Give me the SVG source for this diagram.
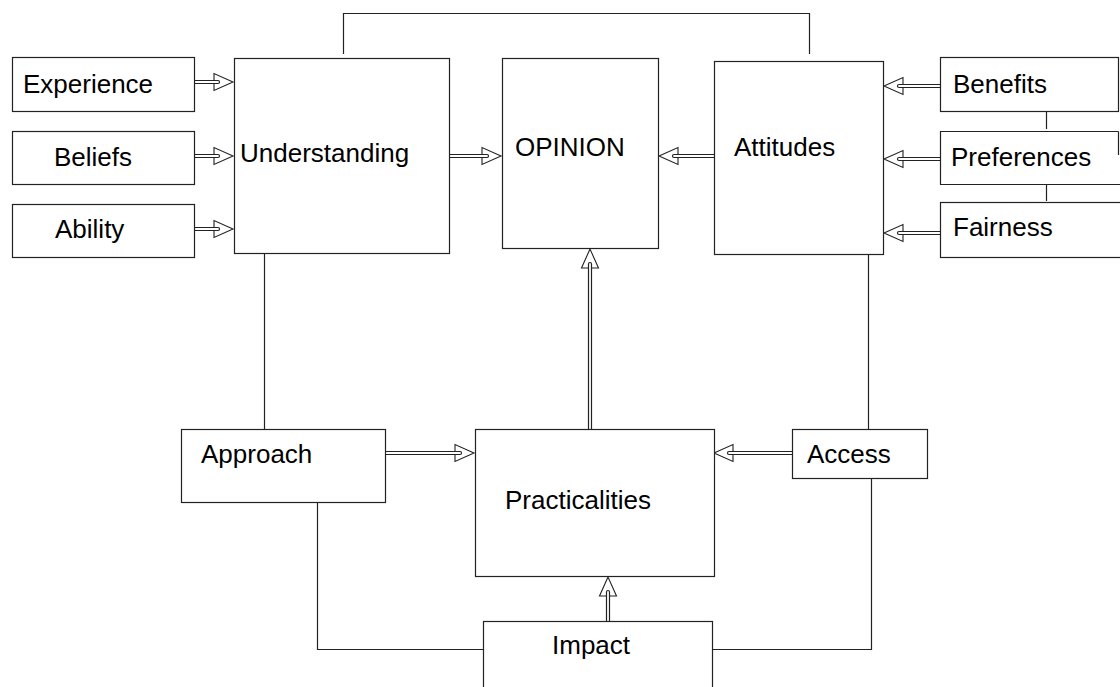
<svg xmlns="http://www.w3.org/2000/svg" width="1120" height="687" viewBox="0 0 1120 687">
<defs>
<style>
.box{fill:#fff;stroke:#222;stroke-width:1.2}
.t{font-family:"Liberation Sans",Arial,sans-serif;font-size:26px;fill:#000}
.ln{fill:none;stroke:#222;stroke-width:1.2}
.head{fill:#fff;stroke:#222;stroke-width:1.1;stroke-linejoin:miter}
.so{fill:none;stroke:#222;stroke-width:4.2;stroke-linecap:round}
.si{fill:none;stroke:#fff;stroke-width:1.8;stroke-linecap:round}
</style>
</defs>
<rect width="1120" height="687" fill="#fff"/>
<g id="connectors">
<path class="ln" d="M343.5,54 V13.5 H809.5 V54"/>
<path class="ln" d="M264.5,253 V429"/>
<path class="ln" d="M868.5,254 V429"/>
<path class="ln" d="M317.5,502 V649.5 H483"/>
<path class="ln" d="M871.5,478 V649.5 H712"/>
<path class="ln" d="M1046.5,111 V129"/>
<path class="ln" d="M1046.5,184 V201"/>
<!-- arrowheads -->
<polygon class="head" points="233,82 214,73.5 214,90.5"/>
<polygon class="head" points="233,156 214,147.5 214,164.5"/>
<polygon class="head" points="233,229 214,220.5 214,237.5"/>
<polygon class="head" points="501,156 482,147.5 482,164.5"/>
<polygon class="head" points="659,156 678,147.5 678,164.5"/>
<polygon class="head" points="884,86 903,77.5 903,94.5"/>
<polygon class="head" points="884,159 903,150.5 903,167.5"/>
<polygon class="head" points="884,233 903,224.5 903,241.5"/>
<polygon class="head" points="590,249 581.5,268 598.5,268"/>
<polygon class="head" points="474,453 455,444.5 455,461.5"/>
<polygon class="head" points="714,453 733,444.5 733,461.5"/>
<polygon class="head" points="608,577 599.5,596 616.5,596"/>
<!-- shafts -->
<g id="shafts">
<path class="so" d="M194,82 H218"/><path class="si" d="M194,82 H218"/>
<path class="so" d="M194,156 H218"/><path class="si" d="M194,156 H218"/>
<path class="so" d="M194,229 H218"/><path class="si" d="M194,229 H218"/>
<path class="so" d="M449,156 H487"/><path class="si" d="M449,156 H487"/>
<path class="so" d="M714,156 H674"/><path class="si" d="M714,156 H674"/>
<path class="so" d="M940,86 H899"/><path class="si" d="M940,86 H899"/>
<path class="so" d="M940,159 H899"/><path class="si" d="M940,159 H899"/>
<path class="so" d="M940,233 H899"/><path class="si" d="M940,233 H899"/>
<path class="so" d="M590,429 V264"/><path class="si" d="M590,429 V264"/>
<path class="so" d="M385,453 H460"/><path class="si" d="M385,453 H460"/>
<path class="so" d="M792,453 H729"/><path class="si" d="M792,453 H729"/>
<path class="so" d="M608,621 V592"/><path class="si" d="M608,621 V592"/>
</g>
</g>
<g id="experience"><rect class="box" x="12.5" y="57.5" width="182" height="54"/><text class="t" x="23" y="93">Experience</text></g>
<g id="beliefs"><rect class="box" x="12.5" y="131.5" width="182" height="53"/><text class="t" x="54" y="166">Beliefs</text></g>
<g id="ability"><rect class="box" x="12.5" y="204.5" width="182" height="53"/><text class="t" x="55" y="238">Ability</text></g>
<g id="understanding"><rect class="box" x="234.5" y="58.5" width="215" height="195"/><text class="t" x="240" y="162">Understanding</text></g>
<g id="opinion"><rect class="box" x="502.5" y="58.5" width="156" height="190"/><text class="t" x="515" y="156">OPINION</text></g>
<g id="attitudes"><rect class="box" x="714.5" y="61.5" width="169" height="193"/><text class="t" x="734" y="156">Attitudes</text></g>
<g id="benefits"><rect class="box" x="940.5" y="57.5" width="178" height="54"/><text class="t" x="953" y="93">Benefits</text></g>
<g id="preferences"><path class="box" d="M1118.5,131.5 H940.5 V184.5 H1120"/><path class="ln" d="M1118.5,131.5 V155"/><text class="t" x="951" y="166">Preferences</text></g>
<g id="fairness"><rect class="box" x="940.5" y="202.5" width="190" height="55"/><text class="t" x="953" y="236">Fairness</text></g>
<g id="approach"><rect class="box" x="181.5" y="429.5" width="204" height="73"/><text class="t" x="201" y="463">Approach</text></g>
<g id="practicalities"><rect class="box" x="475.5" y="429.5" width="239" height="147"/><text class="t" x="505" y="509">Practicalities</text></g>
<g id="access"><rect class="box" x="792.5" y="429.5" width="135" height="49"/><text class="t" x="807" y="463">Access</text></g>
<g id="impact"><rect class="box" x="483.5" y="621.5" width="229" height="80"/><text class="t" x="552" y="654">Impact</text></g>
</svg>
